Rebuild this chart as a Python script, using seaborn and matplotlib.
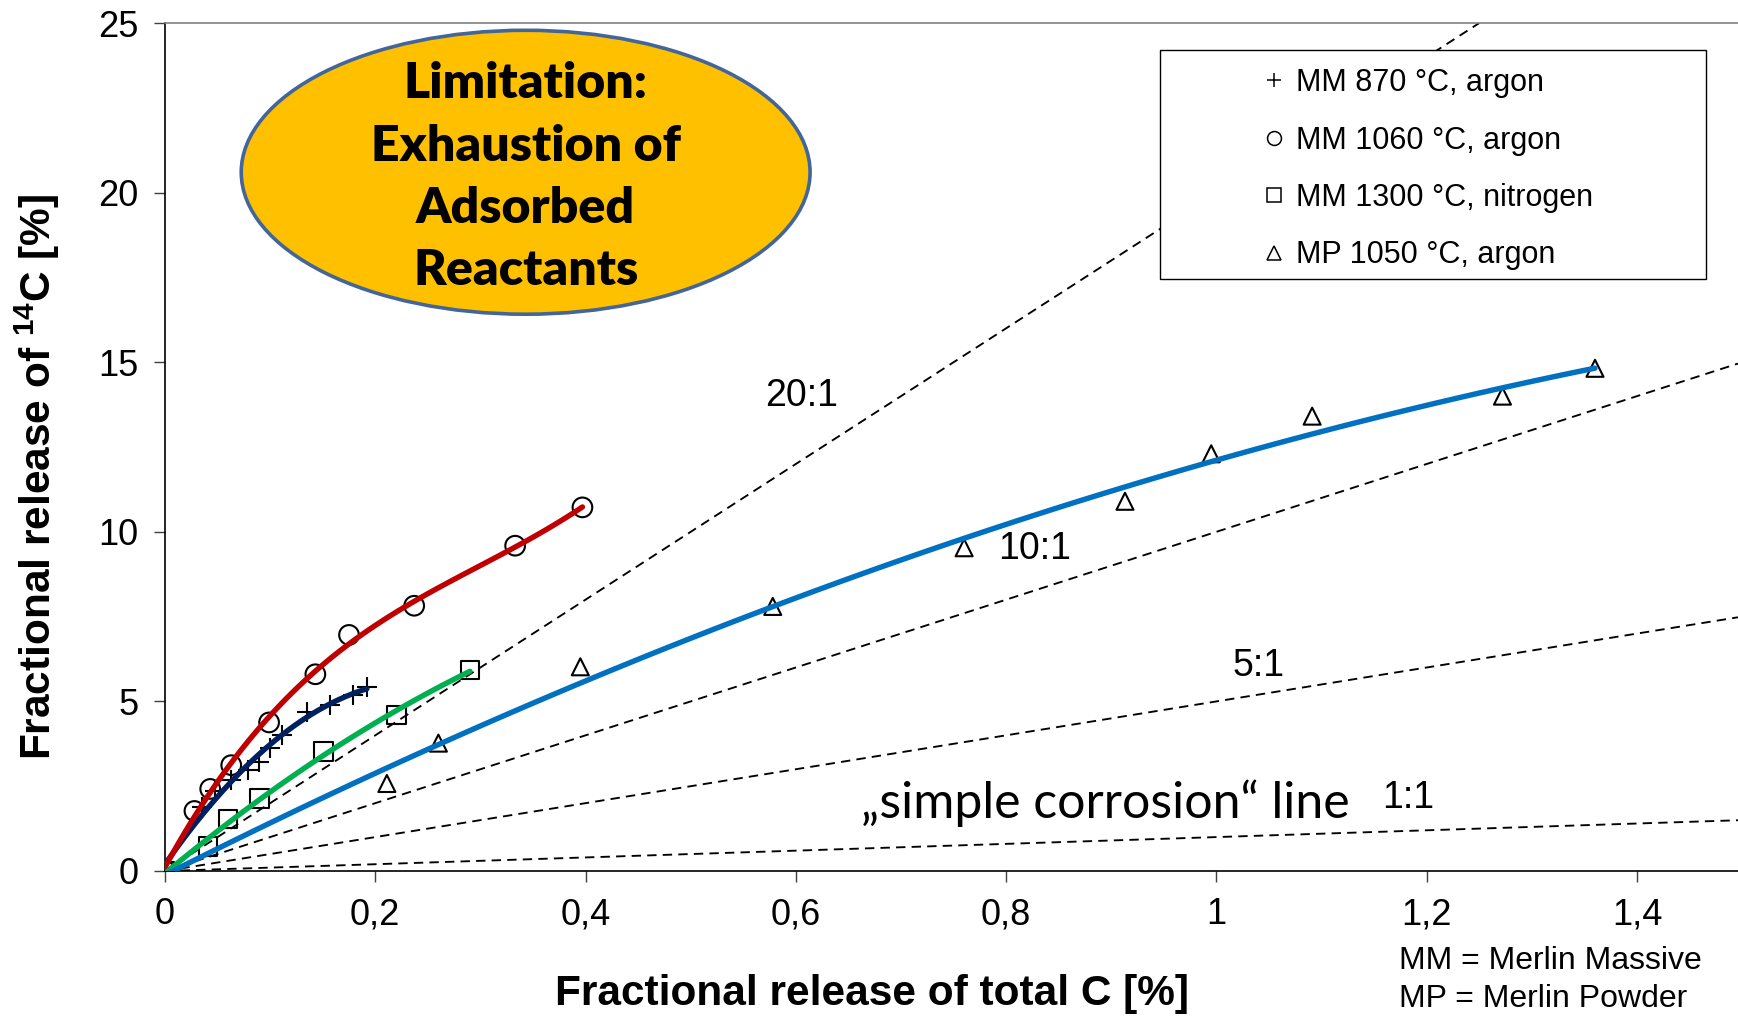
import numpy as np
import pandas as pd
import matplotlib
matplotlib.use("Agg")
import matplotlib.pyplot as plt
from matplotlib.patches import Ellipse, Rectangle
from matplotlib.lines import Line2D
import seaborn as sns

# ---------------- data ----------------
mm870_x = [0, 0.035, 0.048, 0.063, 0.079, 0.089, 0.100, 0.111, 0.135, 0.157, 0.179, 0.192]
mm870_y = [0, 1.90, 2.35, 2.68, 2.98, 3.22, 3.63, 4.00, 4.69, 4.89, 5.19, 5.43]

mm1060_x = [0, 0.028, 0.043, 0.063, 0.099, 0.143, 0.175, 0.237, 0.333, 0.397]
mm1060_y = [0, 1.77, 2.42, 3.12, 4.38, 5.80, 6.96, 7.82, 9.59, 10.72]

mm1300_x = [0, 0.041, 0.060, 0.090, 0.151, 0.220, 0.290]
mm1300_y = [0, 0.72, 1.53, 2.14, 3.52, 4.60, 5.93]

mp1050_x = [0, 0.211, 0.260, 0.395, 0.578, 0.760, 0.913, 0.995, 1.091, 1.272, 1.360]
mp1050_y = [0, 2.58, 3.77, 6.02, 7.80, 9.53, 10.90, 12.30, 13.41, 14.00, 14.82]

series_labels = ["MM 870 °C, argon", "MM 1060 °C, argon", "MM 1300 °C, nitrogen", "MP 1050 °C, argon"]
ratio_slopes = [20, 10, 5, 1]
ratio_labels = ["20:1", "10:1", "5:1", "1:1"]
x_ticks = [0, 0.2, 0.4, 0.6, 0.8, 1.0, 1.2, 1.4]
x_tick_labels = ["0", "0,2", "0,4", "0,6", "0,8", "1", "1,2", "1,4"]
y_ticks = [0, 5, 10, 15, 20, 25]

# ---------------- style ----------------
sns.set_style("white")
plt.rcParams["font.family"] = ["Liberation Sans", "DejaVu Sans"]
plt.rcParams["mathtext.fontset"] = "custom"
plt.rcParams["mathtext.rm"] = "Liberation Sans"
plt.rcParams["mathtext.bf"] = "Liberation Sans:bold"
plt.rcParams["text.color"] = "black"
plt.rcParams["axes.labelcolor"] = "black"
plt.rcParams["xtick.color"] = "black"
plt.rcParams["ytick.color"] = "black"

W, H = 1738, 1016
fig = plt.figure(figsize=(W / 100, H / 100), dpi=100)
x0, x1, ytop, ybot = 165, 1738, 23, 871
ax = fig.add_axes([x0 / W, 1 - ybot / H, (x1 - x0) / W, (ybot - ytop) / H])
ax.set_xlim(0, 1.496)
ax.set_ylim(0, 25)

# ratio lines
for s in ratio_slopes:
    ax.axline((0, 0), slope=s, color="black", lw=1.35, ls=(0, (5, 3.3)), zorder=1)

series = [
    (mm870_x, mm870_y, "+", "#002060", 2, 200),
    (mm1060_x, mm1060_y, "o", "#C00000", 3, 200),
    (mm1300_x, mm1300_y, "s", "#00B050", 2, 180),
    (mp1050_x, mp1050_y, "^", "#0070C0", 2, 150),
]

handles = []
for (xs, ys, mk, col, order, size), lab in zip(series, series_labels):
    df = pd.DataFrame({"x": xs, "y": ys})
    if mk == "+":
        sns.scatterplot(data=df, x="x", y="y", marker=mk, s=size, color="black",
                        linewidth=1.5, ax=ax, zorder=3, legend=False)
    else:
        sns.scatterplot(data=df, x="x", y="y", marker=mk, s=size, facecolor="none",
                        edgecolor="black", linewidth=1.5, ax=ax, zorder=3, legend=False)
    sns.regplot(data=df, x="x", y="y", order=order, scatter=False, ci=None,
                truncate=True, color=col, line_kws={"lw": 3.9, "zorder": 4,
                "solid_capstyle": "round"}, ax=ax)
    handles.append(Line2D([], [], ls="none", marker=mk, markersize=10,
                          markerfacecolor="none", markeredgecolor="black",
                          markeredgewidth=1.1, label=lab))

# spines / ticks
for side in ["left", "bottom"]:
    ax.spines[side].set_color("black")
    ax.spines[side].set_linewidth(1.2)
ax.spines["top"].set_color("#808080")
ax.spines["top"].set_linewidth(1.2)
ax.spines["right"].set_visible(False)

ax.set_xticks(x_ticks)
ax.set_xticklabels(x_tick_labels)
ax.set_yticks(y_ticks)
ax.tick_params(axis="both", which="major", direction="out", length=8, width=1,
               color="#404040", labelsize=26, pad=11, labelcolor="black",
               bottom=True, left=True)
ax.set_xlabel("")
ax.set_ylabel("")

fig.text(872 / W, 1 - 994 / H, "Fractional release of total C [%]", ha="center", va="center",
         fontsize=30.5, fontweight="bold", color="black")
fig.text(37 / W, 1 - 477 / H, r"Fractional release of $\mathbf{^{14}}$C [%]", ha="center",
         va="center", rotation=90, fontsize=30.5, fontweight="bold", color="black")

# ellipse annotation
ell = Ellipse((0.343, 20.6), width=0.541, height=8.37, facecolor="#FFC000",
              edgecolor="#42659A", lw=2.6, zorder=5)
ax.add_patch(ell)
ax.text(0.343, 20.45, "Limitation:\nExhaustion of\nAdsorbed\nReactants", ha="center",
        va="center", fontsize=36, fontweight="heavy", family=["Lato", "DejaVu Sans"],
        linespacing=1.47, color="black", zorder=6)

# ratio labels
ratio_pos = [(0.605, 14.0), (0.827, 9.5), (1.04, 6.04), (1.182, 2.15)]
for (tx, ty), lab in zip(ratio_pos, ratio_labels):
    ax.text(tx, ty, lab, ha="center", va="center", fontsize=27, color="black", zorder=6)
ax.text(0.894, 1.99, "„simple corrosion“ line", ha="center", va="center", fontsize=36,
        family=["Lato", "DejaVu Sans"], color="black", zorder=6)

# legend box
box = Rectangle((1159.5 / W, 1 - 279 / H), (1706 - 1159.5) / W, (279 - 50) / H,
                transform=fig.transFigure, facecolor="white", edgecolor="black",
                lw=1.0, zorder=7)
fig.patches.append(box)
leg = fig.legend(handles=handles, loc="upper left", bbox_to_anchor=(1262 / W, 1 - 68 / H),
                 frameon=False, fontsize=22, handlelength=0.8, handletextpad=0.3,
                 labelspacing=0.9, borderpad=0, borderaxespad=0, labelcolor="black")
leg.set_zorder(8)

fig.text(1399 / W, 1 - 961 / H, "MM = Merlin Massive", ha="left", va="center", fontsize=23,
         color="black")
fig.text(1399 / W, 1 - 999 / H, "MP = Merlin Powder", ha="left", va="center", fontsize=23,
         color="black")

fig.savefig("out.png", dpi=100)
